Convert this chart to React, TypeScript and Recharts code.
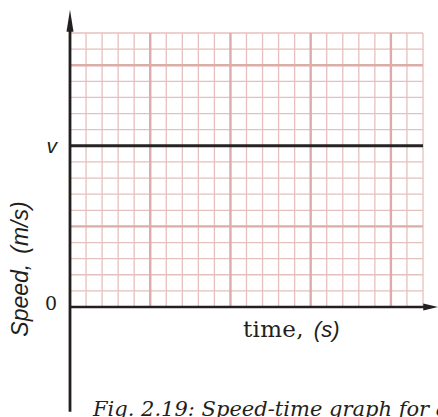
import React from 'react';
import { LineChart, Line, XAxis, YAxis, ReferenceLine } from 'recharts';

// time axis in grid cells (minor squares), speed axis in grid cells
const timeMinorTicks = [1, 2, 3, 4, 6, 7, 8, 9, 11, 12, 13, 14, 16, 17, 18, 19, 21, 22];
const timeMajorTicks = [5, 10, 15, 20];
const speedMinorTicks = [1, 2, 3, 4, 6, 7, 8, 9, 11, 12, 13, 14, 16, 17];
const speedMajorTicks = [5, 15];
const speedTickLabels = [
  { value: 0, label: '0' },
  { value: 10, label: 'v' },
];
// uniform motion: constant speed v over the whole time range
const times = [0, 22];
const speeds = [10, 10];
const speedData = times.map((t, i) => ({ time: t, speed: speeds[i] }));

const yAxisSegment = [{ x: 0, y: -6.5 }, { x: 0, y: 18.45 }];
const xAxisSegment = [{ x: 0, y: 0 }, { x: 22.95, y: 0 }];

const MINOR = '#e6c0bc';
const MAJOR = '#dcaca8';
const INK = '#231f20';

const arrowShape = (len: number, half: number, width: number) => (props: any) => {
  const { x1, y1, x2, y2 } = props;
  const dx = x2 - x1;
  const dy = y2 - y1;
  const d = Math.sqrt(dx * dx + dy * dy) || 1;
  const ux = dx / d;
  const uy = dy / d;
  const bx = x2 - ux * len;
  const by = y2 - uy * len;
  const px = -uy;
  const py = ux;
  const pts = `${x2},${y2} ${bx + px * half},${by + py * half} ${bx - px * half},${by - py * half}`;
  return (
    <g>
      <line x1={x1} y1={y1} x2={bx + ux * 2} y2={by + uy * 2} stroke={INK} strokeWidth={width} />
      <polygon points={pts} fill={INK} />
    </g>
  );
};

const SpeedTick = (props: any) => {
  const { y, payload } = props;
  const item = speedTickLabels.find((s) => s.value === payload.value);
  if (!item) return null;
  if (item.label === 'v') {
    return (
      <text x={57} y={y + 7} textAnchor="end" fontFamily="'Liberation Sans', Arial, sans-serif" fontStyle="italic" fontSize={21} fill={INK}>
        {item.label}
      </text>
    );
  }
  return (
    <text x={57} y={y + 3} textAnchor="end" fontFamily="'DejaVu Serif', serif" fontSize={19} fill={INK}>
      {item.label}
    </text>
  );
};

export default function App() {
  return (
    <div style={{ position: 'absolute', left: 0, top: 0, width: 438, height: 417, background: '#fff', overflow: 'hidden' }}>
      <LineChart width={438} height={417} data={speedData} margin={{ top: 33, right: 15, bottom: 110, left: 0 }}>
        <XAxis dataKey="time" type="number" domain={[0, 22]} hide allowDataOverflow />
        <YAxis
          type="number"
          domain={[0, 17]}
          width={70}
          ticks={speedTickLabels.map((s) => s.value)}
          axisLine={false}
          tickLine={false}
          tick={<SpeedTick />}
          allowDataOverflow
        />
        {timeMinorTicks.map((t) => (
          <ReferenceLine key={'xm' + t} x={t} stroke={MINOR} strokeWidth={1.3} />
        ))}
        {speedMinorTicks.map((s) => (
          <ReferenceLine key={'ym' + s} y={s} stroke={MINOR} strokeWidth={1.3} />
        ))}
        {timeMajorTicks.map((t) => (
          <ReferenceLine key={'xM' + t} x={t} stroke={MAJOR} strokeWidth={2.4} />
        ))}
        {speedMajorTicks.map((s) => (
          <ReferenceLine key={'yM' + s} y={s} stroke={MAJOR} strokeWidth={2.4} />
        ))}
        <Line
          type="linear"
          dataKey="speed"
          stroke="#262324"
          strokeWidth={3}
          dot={false}
          isAnimationActive={false}
        />
        <ReferenceLine segment={yAxisSegment} ifOverflow="visible" shape={arrowShape(22, 3.5, 2.8)} />
        <ReferenceLine segment={xAxisSegment} ifOverflow="visible" shape={arrowShape(15, 3.5, 2.6)} />
        <text transform="translate(28,269) rotate(-90)" textAnchor="middle" fontFamily="'Liberation Sans', Arial, sans-serif" fontStyle="italic" fontSize={23} fill={INK}>
          <tspan>Speed,</tspan>
          <tspan dx={10}>(m/s)</tspan>
        </text>
        <text x={243} y={337} fill={INK}>
          <tspan fontFamily="'DejaVu Serif', serif" fontSize={23} letterSpacing={0.3}>time,</tspan>
          <tspan dx={10} fontFamily="'Liberation Sans', Arial, sans-serif" fontStyle="italic" fontSize={22}>(s)</tspan>
        </text>
        <text x={93} y={416} fontFamily="'DejaVu Serif', serif" fontStyle="italic" fontSize={21} fill={INK}>
          Fig. 2.19: Speed-time graph for a
        </text>
      </LineChart>
    </div>
  );
}
